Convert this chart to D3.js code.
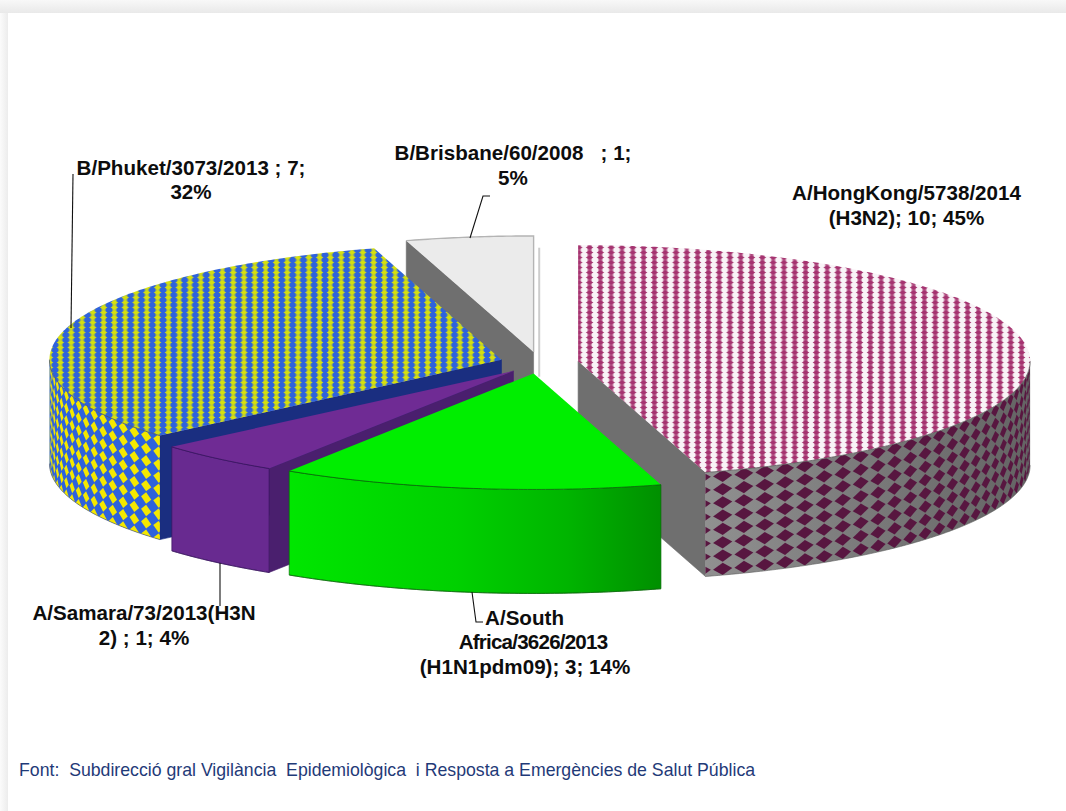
<!DOCTYPE html>
<html>
<head>
<meta charset="utf-8">
<script src="https://cdnjs.cloudflare.com/ajax/libs/d3/7.8.5/d3.min.js"></script>
<style>
  html, body { margin: 0; padding: 0; background: #fff; }
  svg { display: block; }
  text { font-family: "Liberation Sans", Arial, sans-serif; }
</style>
</head>
<body>
<svg id="chart" width="1066" height="811"></svg>
<script>
// Influenza strains isolated during the season, in drawing order clockwise from 12 o'clock
const strains = [
  "A/HongKong/5738/2014 (H3N2)",
  "A/South Africa/3626/2013 (H1N1pdm09)",
  "A/Samara/73/2013(H3N2)",
  "B/Phuket/3073/2013",
  "B/Brisbane/60/2008"
];
const counts = [10, 3, 1, 7, 1];

// Label lines per strain, as wrapped in the call-outs
const labelLines = [
  ["A/HongKong/5738/2014", "(H3N2); 10; 45%"],
  ["A/South", "Africa/3626/2013", "(H1N1pdm09); 3; 14%"],
  ["A/Samara/73/2013(H3N", "2) ; 1; 4%"],
  ["B/Phuket/3073/2013 ; 7;", "32%"],
  ["B/Brisbane/60/2008   ; 1;", "5%"]
];
const labelCentres = [[906.5, 906.5], [524.5, 533, 525], [144, 144], [191, 191], [513, 513]];
const labelBaselines = [[200, 225], [625, 649, 674], [620, 645], [175, 199], [160, 185]];
const labelTracking = [[0, 0], [0, -0.8, 0], [0, 0], [0, 0], [0, 0]];
const leaders = [
  null,
  [[472, 592], [476, 622], [483, 622]],
  [[220, 563], [220, 606]],
  [[71, 328], [73, 174]],
  [[470, 238], [483, 196], [490, 196]]
];
const sourceNote = "Font:  Subdirecció gral Vigilància  Epidemiològica  i Resposta a Emergències de Salut Pública";

// Colours per slice
const topFills = ["url(#topPink)", "#00ee00", "#6f2b94", "url(#topBlue)", "#ebebeb"];
const wallBases = ["url(#wallGrey)", "url(#wallGreen)", "#682a90", "#2e62dc", "#d8d8d8"];
const wallMarks = ["#581741", null, null, "#f4e800", null];
const cutFills = ["#6f6f6f", "#008c00", "#4a1f6e", "#1a2e80", "#6f6f6f"];
const edgeStrokes = ["#5a5a5a", "#0a6a0a", "#3a1560", "#44506a", "#b4b4b4"];

const width = 1066, height = 811;
const svg = d3.select("#chart").attr("viewBox", [0, 0, width, height]);
const defs = svg.append("defs");

// Tilted-disc projection: unit circle to page pixels
const x = d3.scaleLinear().domain([-1, 1]).range([539.2 - 452, 539.2 + 452]);
const y = d3.scaleLinear().domain([-1, 1]).range([362.7 - 116, 362.7 + 116]);
const depth = 104;
const explodeX = 0.087, explodeY = 0.0936;

const arcs = d3.pie().sort(null).value(d => d)(counts);
const line = d3.line();

arcs.forEach(a => {
  a.mid = (a.startAngle + a.endAngle) / 2;
  a.ox = explodeX * Math.sin(a.mid);
  a.oy = -explodeY * Math.cos(a.mid);
});
const pt = (a, th, r = 1, dz = 0) => [
  x(a.ox + r * Math.sin(th)),
  y(a.oy - r * Math.cos(th)) + dz
];
const sweep = (t0, t1) => {
  const n = Math.max(2, Math.ceil(Math.abs(t1 - t0) / 0.01));
  return d3.range(n + 1).map(i => t0 + (t1 - t0) * i / n);
};

// Frame shading along the top and left of the page
const topShade = defs.append("linearGradient").attr("id", "shadeTop").attr("x1", 0).attr("x2", 0).attr("y1", 0).attr("y2", 1);
topShade.append("stop").attr("offset", 0).attr("stop-color", "#f8f8f8");
topShade.append("stop").attr("offset", 1).attr("stop-color", "#e9e9e9");
const leftShade = defs.append("linearGradient").attr("id", "shadeLeft");
leftShade.append("stop").attr("offset", 0).attr("stop-color", "#fbfbfb");
leftShade.append("stop").attr("offset", 1).attr("stop-color", "#ececec");
svg.append("rect").attr("width", 8).attr("height", height).attr("fill", "url(#shadeLeft)");
svg.append("rect").attr("width", width).attr("height", 13).attr("fill", "url(#shadeTop)");

// Woven fills for the two patterned top faces: soft beaded columns
function weave(id, ground, core) {
  const p = defs.append("pattern").attr("id", id).attr("patternUnits", "userSpaceOnUse")
    .attr("width", 10.8).attr("height", 5).attr("x", 1);
  p.append("rect").attr("width", 10.8).attr("height", 5).attr("fill", ground);
  p.append("path").attr("d", "M1.6,2.5 L5.4,0.2 L9.2,2.5 L5.4,4.8 Z").attr("fill", core);
  p.append("rect").attr("x", 3.4).attr("y", 0).attr("width", 4).attr("height", 5).attr("fill", core).attr("opacity", 0.8);
}
weave("topPink", "#f9f3f7", "#a5336f");
weave("topBlue", "#2e62dc", "#d6e010");

const soften = defs.append("filter").attr("id", "soften")
  .attr("x", "-2%").attr("y", "-2%").attr("width", "104%").attr("height", "104%");
soften.append("feGaussianBlur").attr("stdDeviation", 0.7);
const softenMark = defs.append("filter").attr("id", "softenMark")
  .attr("x", "-2%").attr("y", "-2%").attr("width", "104%").attr("height", "104%");
softenMark.append("feGaussianBlur").attr("stdDeviation", 0.45);

const greyWall = defs.append("linearGradient").attr("id", "wallGrey").attr("gradientUnits", "userSpaceOnUse")
  .attr("x1", 706).attr("x2", 1030).attr("y1", 0).attr("y2", 0);
greyWall.append("stop").attr("offset", 0).attr("stop-color", "#909090");
greyWall.append("stop").attr("offset", 1).attr("stop-color", "#646464");
const greenWall = defs.append("linearGradient").attr("id", "wallGreen").attr("gradientUnits", "userSpaceOnUse")
  .attr("x1", 291).attr("x2", 661).attr("y1", 0).attr("y2", 0);
[[0, "#00e600"], [0.45, "#00d000"], [0.75, "#00b400"], [1, "#008f00"]].forEach(s =>
  greenWall.append("stop").attr("offset", s[0]).attr("stop-color", s[1]));

// Slices are painted back to front
const paintOrder = [4, 0, 3, 2, 1];

paintOrder.forEach(i => {
  const a = arcs[i];
  const g = svg.append("g").attr("class", "slice").attr("data-strain", strains[i]);

  if (i === 0) {
    // Thin rim left standing on the 12 o'clock seam
    g.append("line").attr("x1", x(0)).attr("x2", x(0))
      .attr("y1", y(-1) + 1).attr("y2", y(0) + 14)
      .attr("stroke", "#cdcdcd").attr("stroke-width", 2);
  }

  // Radial cut faces turned towards the viewer
  const cuts = [];
  if (a.startAngle > Math.PI) cuts.push(a.startAngle);
  if (a.endAngle < Math.PI) cuts.push(a.endAngle);
  cuts.forEach(th => {
    const poly = [pt(a, th, 0), pt(a, th, 1), pt(a, th, 1, depth), pt(a, th, 0, depth)];
    g.append("path").attr("d", line(poly) + "Z")
      .attr("fill", cutFills[i]).attr("stroke", cutFills[i]).attr("stroke-width", 0.6);
  });

  // Outer wall, the part of the rim on the near half of the disc
  const t0 = Math.max(a.startAngle, Math.PI / 2);
  const t1 = Math.min(a.endAngle, 3 * Math.PI / 2);
  if (t1 > t0) {
    const upper = sweep(t0, t1).map(th => pt(a, th));
    const lower = sweep(t1, t0).map(th => pt(a, th, 1, depth));
    const wallPath = line(upper.concat(lower)) + "Z";
    g.append("path").attr("d", wallPath).attr("fill", wallBases[i]);

    if (wallMarks[i]) {
      const clipId = "wallClip" + i;
      defs.append("clipPath").attr("id", clipId).append("path").attr("d", wallPath);
      const marks = g.append("g").attr("clip-path", `url(#${clipId})`).append("g").attr("filter", "url(#softenMark)");
      const step = i === 0 ? 0.05 : 0.0435;
      const rowStep = i === 0 ? 13.3 : 12.4;
      const halfW = i === 0 ? 0.45 : 0.42;
      const halfH = 0.46;
      const columns = Math.ceil((t1 - t0) / step) + 1;
      const rows = Math.ceil(depth / rowStep) + 1;
      d3.range(columns).forEach(c => {
        const th = i === 0 ? a.endAngle - step * (c - 0.2) : a.startAngle + step * (c + 0.1);
        d3.range(rows).forEach(r => {
          const dz = 4.7 + r * rowStep;
          const diamond = [
            pt(a, th - step * halfW, 1, dz),
            pt(a, th, 1, dz - rowStep * halfH),
            pt(a, th + step * halfW, 1, dz),
            pt(a, th, 1, dz + rowStep * halfH)
          ];
          marks.append("path").attr("d", line(diamond) + "Z").attr("fill", wallMarks[i]);
        });
      });
    }
    g.append("path").attr("d", line(sweep(t1, t0).map(th => pt(a, th, 1, depth))))
      .attr("fill", "none").attr("stroke", edgeStrokes[i]).attr("stroke-width", 0.6);
    if (i === 1 || i === 2) {
      g.append("path").attr("d", wallPath).attr("fill", "none")
        .attr("stroke", edgeStrokes[i]).attr("stroke-width", 0.7);
    }
  }

  // Top face; woven fills are softened inside a crisp clip
  const rim = sweep(a.startAngle, a.endAngle).map(th => pt(a, th));
  const topPath = line([pt(a, 0, 0)].concat(rim)) + "Z";
  if (topFills[i].startsWith("url")) {
    const clipId = "topClip" + i;
    defs.append("clipPath").attr("id", clipId).append("path").attr("d", topPath);
    g.append("g").attr("clip-path", `url(#${clipId})`)
      .append("rect").attr("x", 0).attr("y", 200).attr("width", width).attr("height", 320)
      .attr("fill", topFills[i]).attr("filter", "url(#soften)");
  } else {
    g.append("path").attr("d", topPath).attr("fill", topFills[i]);
  }
  if (i === 4) {
    g.append("path").attr("d", line(rim.concat([pt(a, 0, 0)])))
      .attr("fill", "none").attr("stroke", edgeStrokes[i]).attr("stroke-width", 1.4);
  } else if (t1 > t0) {
    g.append("path").attr("d", line(sweep(t0, t1).map(th => pt(a, th))))
      .attr("fill", "none").attr("stroke", edgeStrokes[i]).attr("stroke-width", 0.8);
  }
});

// Leader lines
svg.append("g").attr("class", "leaders")
  .selectAll("path").data(leaders.filter(Boolean)).join("path")
  .attr("d", d => line(d)).attr("fill", "none").attr("stroke", "#111").attr("stroke-width", 1.1);

// Call-out labels
labelLines.forEach((lines, i) => {
  svg.append("g").attr("class", "label").selectAll("text").data(lines).join("text")
    .attr("x", (d, k) => labelCentres[i][k])
    .attr("y", (d, k) => labelBaselines[i][k])
    .attr("text-anchor", "middle")
    .style("white-space", "pre")
    .attr("letter-spacing", (d, k) => labelTracking[i][k])
    .attr("font-size", 20.6).attr("font-weight", 700).attr("fill", "#0d0d0d")
    .text(d => d);
});

// Source note
svg.append("text").attr("x", 19).attr("y", 776)
  .style("white-space", "pre")
  .attr("font-size", 17.7).attr("fill", "#1f3a78").text(sourceNote);
</script>
</body>
</html>
